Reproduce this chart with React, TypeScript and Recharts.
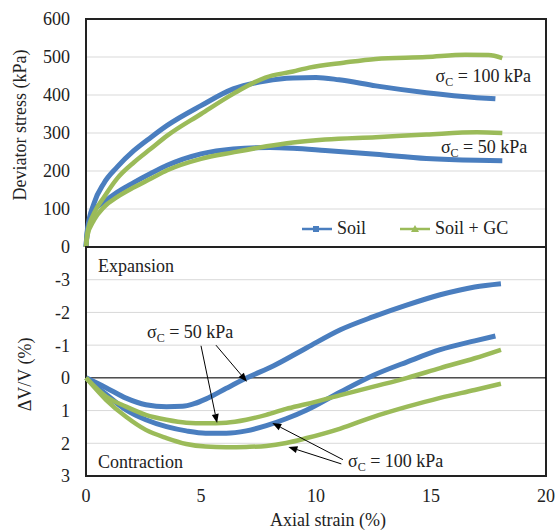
import { LineChart, Line, XAxis, YAxis, CartesianGrid, ReferenceArea, ReferenceLine, ReferenceDot, Legend } from 'recharts'

const BLUE = '#4a7ebf'
const GREEN = '#9bbb59'
const INK = '#222'
const FONT = '"Liberation Serif", "DejaVu Serif", "Noto Serif", serif'

// deviator stress (kPa) vs axial strain (%)
const soil100Strain = [0, 0.06, 0.35, 0.78, 1.35, 2.09, 2.83, 3.53, 5, 6.4, 7.8, 9, 10, 11, 12.6, 14.8, 17, 17.8]
const soil100Stress = [0, 45, 115, 168, 210, 254, 289, 320, 372, 416, 437, 445, 446, 440, 424, 406, 393, 390]
const gc100Strain = [0, 0.06, 0.35, 0.78, 1.35, 2.09, 2.83, 3.53, 5, 6.4, 7.8, 9, 9.7, 11.2, 12.6, 14.8, 16.5, 17.5, 18.1]
const gc100Stress = [0, 37, 89, 131, 180, 223, 259, 293, 350, 403, 446, 462, 472, 485, 495, 500, 506, 505, 497]
const soil50Strain = [0, 0.06, 0.35, 0.78, 1.35, 2.09, 2.83, 3.53, 5, 6.4, 8, 9, 10.4, 12.6, 14.8, 17, 18.1]
const soil50Stress = [0, 40, 95, 118, 144, 170, 194, 215, 245, 258, 262, 260, 254, 244, 233, 228, 227]
const gc50Strain = [0, 0.06, 0.35, 0.78, 1.35, 2.09, 2.83, 3.53, 5, 6.4, 7.85, 9, 10.4, 12.6, 14.8, 17, 18.1]
const gc50Stress = [0, 30, 71, 105, 131, 157, 180, 202, 232, 249, 265, 275, 283, 289, 296, 302, 300]

// volumetric strain (%) vs axial strain (%), contraction positive
const volSoil50Strain = [0, 0.87, 1.74, 2.6, 3.5, 4.2, 4.7, 5.2, 6.1, 7.0, 8.16, 9.6, 11.06, 12.5, 13.97, 15.4, 16.9, 18.04]
const volSoil50 = [0, 0.3, 0.62, 0.82, 0.88, 0.87, 0.79, 0.65, 0.32, 0.0, -0.37, -0.92, -1.47, -1.87, -2.23, -2.54, -2.78, -2.88]
const volSoil100Strain = [0, 0.87, 1.74, 2.6, 3.5, 4.36, 5.2, 6.1, 6.97, 7.84, 8.7, 9.6, 11.06, 12.5, 13.97, 15.4, 16.9, 17.8]
const volSoil100 = [0, 0.5, 0.98, 1.28, 1.49, 1.62, 1.69, 1.69, 1.62, 1.46, 1.25, 0.98, 0.43, -0.08, -0.49, -0.86, -1.13, -1.28]
const volGc50Strain = [0, 0.87, 1.74, 2.6, 3.5, 4.36, 5.2, 6.1, 6.97, 7.84, 8.7, 9.6, 11.06, 12.5, 13.97, 15.4, 16.9, 18.04]
const volGc50 = [0, 0.57, 0.88, 1.13, 1.28, 1.37, 1.39, 1.37, 1.28, 1.13, 0.95, 0.8, 0.53, 0.27, 0, -0.3, -0.6, -0.86]
const volGc100Strain = [0, 0.87, 1.74, 2.6, 3.5, 4.36, 5.2, 6.1, 6.97, 7.84, 8.7, 9.6, 11.06, 12.5, 13.97, 15.4, 16.9, 18.04]
const volGc100 = [0, 0.67, 1.19, 1.59, 1.84, 2.02, 2.1, 2.12, 2.11, 2.08, 1.99, 1.84, 1.55, 1.19, 0.88, 0.61, 0.37, 0.18]

const stressTicks = [0, 100, 200, 300, 400, 500, 600]
const volTicks = [-3, -2, -1, 0, 1, 2, 3]
const strainTicks = [0, 5, 10, 15, 20]

const zip = (xs: number[], ys: number[]) => xs.map((x, i) => ({ x, y: ys[i] }))

const tickStyle = { fill: INK, fontSize: 18, fontFamily: FONT }

const Sigma = ({ x, y, rest }: { x: number; y: number; rest: string }) => (
  <text x={x} y={y + 6} fill={INK} fontSize={18} fontFamily={FONT}>
    σ<tspan fontSize={12} dy={4}>C</tspan>
    <tspan dy={-4}>{rest}</tspan>
  </text>
)

const sigmaShape = (rest: string) => (p: any) => <Sigma x={p.cx} y={p.cy} rest={rest} />

const wordShape = (word: string) => (p: any) => (
  <text x={p.cx} y={p.cy + 6} fill={INK} fontSize={18} fontFamily={FONT}>
    {word}
  </text>
)

const arrowShape = (p: any) => {
  const { x1, y1, x2, y2 } = p
  const a = Math.atan2(y2 - y1, x2 - x1)
  const bx = x2 - 9 * Math.cos(a)
  const by = y2 - 9 * Math.sin(a)
  const w = 3.5
  const pts = `${x2},${y2} ${bx + w * Math.sin(a)},${by - w * Math.cos(a)} ${bx - w * Math.sin(a)},${by + w * Math.cos(a)}`
  return (
    <g>
      <line x1={x1} y1={y1} x2={bx} y2={by} stroke="#000" strokeWidth={1} />
      <polygon points={pts} fill="#000" />
    </g>
  )
}

const LegendBox = () => (
  <div style={{ display: 'flex', alignItems: 'center', fontFamily: FONT, fontSize: 18, color: INK }}>
    <svg width={32} height={10} style={{ marginRight: 3 }}>
      <line x1={0} y1={5} x2={30} y2={5} stroke={BLUE} strokeWidth={2.5} />
      <rect x={11} y={2} width={6} height={6} fill={BLUE} />
    </svg>
    <span style={{ marginRight: 34 }}>Soil</span>
    <svg width={32} height={10} style={{ marginRight: 3 }}>
      <line x1={0} y1={5} x2={30} y2={5} stroke={GREEN} strokeWidth={2.5} />
      <polygon points="15,1 19,8 11,8" fill={GREEN} />
    </svg>
    <span>Soil + GC</span>
  </div>
)

const sideLabel = (text: string, dx: number, dy: number) => (p: any) => {
  const vb = p.viewBox
  const cx = vb.x + dx
  const cy = vb.y + vb.height / 2 + dy
  return (
    <text x={cx} y={cy} transform={`rotate(-90 ${cx} ${cy})`} textAnchor="middle" dominantBaseline="central" fill={INK} fontSize={18} fontFamily={FONT}>
      {text}
    </text>
  )
}

const bottomLabel = (p: any) => {
  const vb = p.viewBox
  return (
    <text x={vb.x + vb.width / 2 + 12} y={vb.y + 50} textAnchor="middle" fill={INK} fontSize={18} fontFamily={FONT}>
      Axial strain (%)
    </text>
  )
}

export default function App() {
  return (
    <div style={{ position: 'absolute', left: 0, top: 0, width: 556, height: 531, background: '#fff', fontFamily: FONT }}>
      <div style={{ position: 'absolute', left: 0, top: 0 }}>
        <LineChart width={556} height={260} margin={{ top: 19, right: 10, bottom: 13, left: 0 }}>
          <CartesianGrid vertical={false} stroke="#d9d9d9" />
          <XAxis dataKey="x" type="number" domain={[0, 20]} ticks={strainTicks} hide />
          <YAxis
            domain={[0, 600]}
            ticks={stressTicks}
            width={86}
            tickSize={0}
            tickMargin={16}
            axisLine={false}
            tickLine={false}
            tick={tickStyle}
            label={{ content: sideLabel('Deviator stress (kPa)', 20, -8) }}
          />
          <Line data={zip(soil100Strain, soil100Stress)} dataKey="y" type="monotone" stroke={BLUE} strokeWidth={5} dot={false} isAnimationActive={false} />
          <Line data={zip(soil50Strain, soil50Stress)} dataKey="y" type="monotone" stroke={BLUE} strokeWidth={5} dot={false} isAnimationActive={false} />
          <Line data={zip(gc100Strain, gc100Stress)} dataKey="y" type="monotone" stroke={GREEN} strokeWidth={4.5} dot={false} isAnimationActive={false} />
          <Line data={zip(gc50Strain, gc50Stress)} dataKey="y" type="monotone" stroke={GREEN} strokeWidth={4.5} dot={false} isAnimationActive={false} />
          <ReferenceDot x={15.2} y={450} r={0} ifOverflow="visible" shape={sigmaShape(' = 100 kPa')} />
          <ReferenceDot x={15.43} y={262} r={0} ifOverflow="visible" shape={sigmaShape(' = 50 kPa')} />
          <ReferenceArea x1={0} x2={20} y1={0} y2={600} fill="none" stroke={INK} strokeWidth={2} ifOverflow="visible" />
          <Legend verticalAlign="middle" align="center" content={() => <LegendBox />} wrapperStyle={{ left: 302, top: 218, width: 240 }} />
        </LineChart>
      </div>
      <div style={{ position: 'absolute', left: 0, top: 237 }}>
        <LineChart width={556} height={294} margin={{ top: 10, right: 10, bottom: 0, left: 0 }}>
          <CartesianGrid vertical={false} stroke="#d9d9d9" />
          <XAxis
            dataKey="x"
            type="number"
            domain={[0, 20]}
            ticks={strainTicks}
            height={55}
            tickSize={0}
            tickMargin={13}
            axisLine={false}
            tickLine={false}
            tick={tickStyle}
            label={{ content: bottomLabel }}
          />
          <YAxis
            domain={[-4, 3]}
            ticks={volTicks}
            reversed
            width={86}
            tickSize={0}
            tickMargin={16}
            axisLine={false}
            tickLine={false}
            tick={tickStyle}
            label={{ content: sideLabel('ΔV/V (%)', 25, 13) }}
          />
          <ReferenceLine y={0} stroke="#000" strokeWidth={1} />
          <Line data={zip(volSoil50Strain, volSoil50)} dataKey="y" type="monotone" stroke={BLUE} strokeWidth={5} dot={false} isAnimationActive={false} />
          <Line data={zip(volSoil100Strain, volSoil100)} dataKey="y" type="monotone" stroke={BLUE} strokeWidth={5} dot={false} isAnimationActive={false} />
          <Line data={zip(volGc50Strain, volGc50)} dataKey="y" type="monotone" stroke={GREEN} strokeWidth={4.5} dot={false} isAnimationActive={false} />
          <Line data={zip(volGc100Strain, volGc100)} dataKey="y" type="monotone" stroke={GREEN} strokeWidth={4.5} dot={false} isAnimationActive={false} />
          <ReferenceDot x={0.52} y={-3.42} r={0} ifOverflow="visible" shape={wordShape('Expansion')} />
          <ReferenceDot x={0.52} y={2.57} r={0} ifOverflow="visible" shape={wordShape('Contraction')} />
          <ReferenceDot x={2.65} y={-1.41} r={0} ifOverflow="visible" shape={sigmaShape(' = 50 kPa')} />
          <ReferenceDot x={11.39} y={2.54} r={0} ifOverflow="visible" shape={sigmaShape(' = 100 kPa')} />
          <ReferenceLine segment={[{ x: 5.0, y: -0.98 }, { x: 5.7, y: 1.38 }]} shape={arrowShape} ifOverflow="visible" />
          <ReferenceLine segment={[{ x: 5.65, y: -1.0 }, { x: 7.0, y: 0.12 }]} shape={arrowShape} ifOverflow="visible" />
          <ReferenceLine segment={[{ x: 11.17, y: 2.5 }, { x: 8.1, y: 1.38 }]} shape={arrowShape} ifOverflow="visible" />
          <ReferenceLine segment={[{ x: 11.1, y: 2.63 }, { x: 8.8, y: 2.11 }]} shape={arrowShape} ifOverflow="visible" />
          <ReferenceArea x1={0} x2={20} y1={-4} y2={3} fill="none" stroke={INK} strokeWidth={2} ifOverflow="visible" />
        </LineChart>
      </div>
    </div>
  )
}
